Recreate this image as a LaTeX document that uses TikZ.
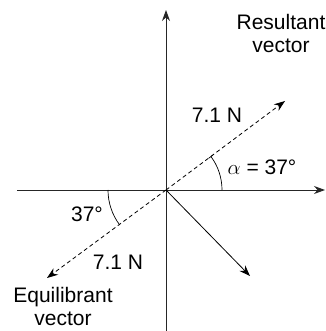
\documentclass[tikz,border=0pt]{standalone}
\usepackage{fontspec}
\setmainfont{Liberation Sans}
\usetikzlibrary{arrows.meta}
\usetikzlibrary{positioning}

\tikzset{
    asse/.style={line width=0.9pt, draw=black!85, -{Stealth[length=11pt,width=8pt]}},
    vett/.style={line width=0.8pt, -{Stealth[length=11pt,width=8pt]}},
    tratt/.style={line width=0.8pt, dash pattern=on 4pt off 3pt, -{Stealth[length=11pt,width=8pt]}},
    etich/.style={font=\fontsize{21}{23}\selectfont, align=center, inner sep=0pt}
}

\begin{document}
\begin{tikzpicture}[x=1pt, y=1pt]
        \useasboundingbox (-166,-141) rectangle (159,190);

        % Punti
        \coordinate (O) at (0,0);
        \coordinate (xa) at (-149,0);
        \coordinate (xb) at (159,0);
        \coordinate (ya) at (0,-141);
        \coordinate (yb) at (0,180);
        \coordinate (R) at (119,89);
        \coordinate (E) at (-119,-88);
        \coordinate (F) at (84,-86);

        % Assi
        \draw[asse] (xa) -- (xb);
        \draw[asse] (ya) -- (yb);

        % Vettori
        \draw[tratt] (O) -- (R);
        \draw[tratt] (O) -- (E);
        \draw[vett] (O) -- (F);

        % Angoli
        \draw[line width=0.7pt, -{Bar[width=5pt]}] (56,0) arc[start angle=0, end angle=37, radius=56];
        \draw[line width=0.7pt] (-58,0) arc[start angle=180, end angle=217, radius=58];

        % Etichette
        \node[etich] (res) at (115,157) {Resultant\\vector};
        \node[etich] (f1) at (51,75) {7.1 N};
        \node[etich] (alfa) at (96,23) {$\alpha$ = 37°};
        \node[etich] (a2) at (-79,-24) {37°};
        \node[etich] (f2) at (-48,-72) {7.1 N};
        \node[etich] (equ) at (-103,-116) {Equilibrant\\vector};
    \end{tikzpicture}
\end{document}
